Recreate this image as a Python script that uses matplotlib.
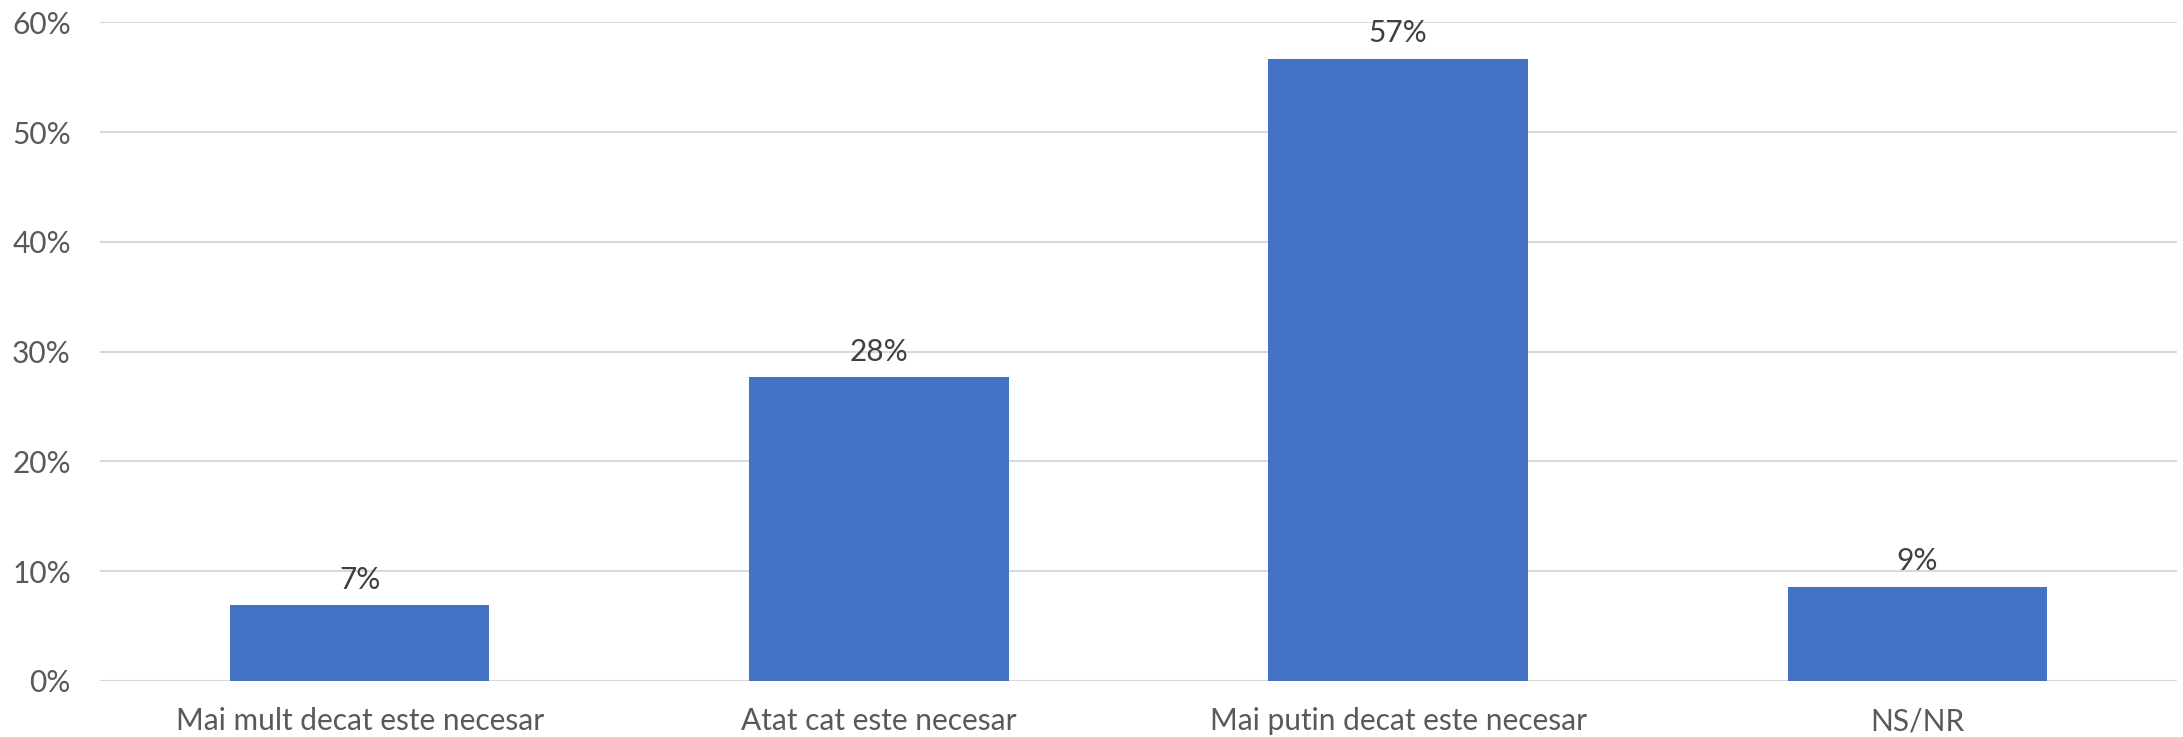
import matplotlib
matplotlib.use('Agg')
import matplotlib.pyplot as plt

categories = ['Mai mult decat este necesar', 'Atat cat este necesar',
              'Mai putin decat este necesar', 'NS/NR']
values = [6.9, 27.7, 56.7, 8.6]
labels = ['7%', '28%', '57%', '9%']
yticks = [0, 10, 20, 30, 40, 50, 60]
ytick_labels = ['0%', '10%', '20%', '30%', '40%', '50%', '60%']

plt.rcParams['font.family'] = ['Lato', 'DejaVu Sans']

fig = plt.figure(figsize=(21.83, 7.37), dpi=100)
ax = fig.add_axes([100 / 2183, 1 - 681 / 737, 2077 / 2183, (681 - 22.3) / 737])

x = range(len(categories))
bars = ax.bar(x, values, width=0.5, color='#4472C4', zorder=3)

for b, lab in zip(bars, labels):
    ax.annotate(lab, (b.get_x() + b.get_width() / 2, b.get_height()),
                xytext=(0, 8), textcoords='offset points',
                ha='center', va='bottom', fontsize=21.5, color='#404040')

ax.set_xlim(-0.5, len(categories) - 0.5)
ax.set_ylim(0, 60)
ax.set_yticks(yticks)
ax.set_yticklabels(ytick_labels)
ax.set_xticks(list(x))
ax.set_xticklabels(categories)
ax.tick_params(axis='both', length=0, labelsize=21.5, labelcolor='#595959')
ax.tick_params(axis='y', pad=21)
ax.tick_params(axis='x', pad=19)

ax.grid(axis='y', color='#D9D9D9', linewidth=1.5, zorder=0)
for s in ax.spines.values():
    s.set_visible(False)

fig.savefig('out.png', dpi=100)
